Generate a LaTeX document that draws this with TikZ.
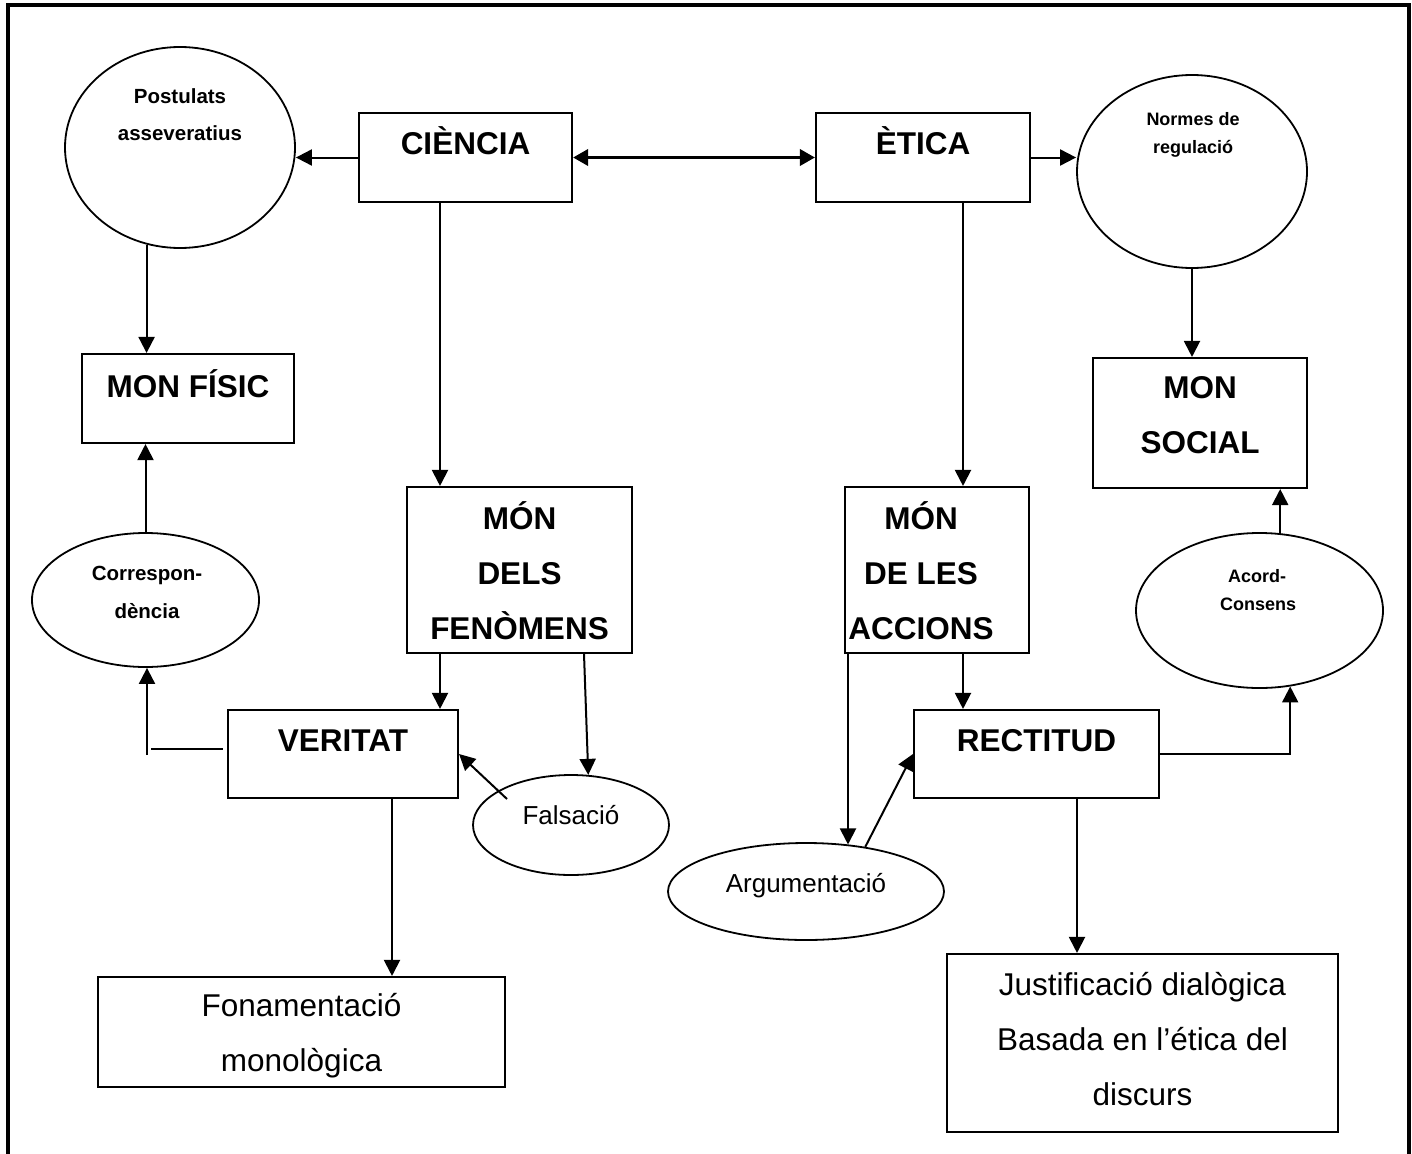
\documentclass[tikz,border=0pt]{standalone}
\usepackage{fontspec}
\setmainfont{Liberation Sans}
\usetikzlibrary{arrows.meta,shapes.geometric}
\tikzset{
  boxnode/.style={draw, line width=2.1pt, rectangle, inner sep=0pt},
  ellnode/.style={draw, line width=1.8pt, ellipse, inner sep=0pt},
  txt/.style={inner sep=0pt, anchor=base},
  bigbold/.style={txt, font=\fontsize{31.5}{36}\selectfont\bfseries},
  bigreg/.style={txt, font=\fontsize{31.5}{36}\selectfont},
  midreg/.style={txt, font=\fontsize{26}{30}\selectfont},
  smallbold/.style={txt, font=\fontsize{20.5}{24}\selectfont\bfseries},
  tinybold/.style={txt, font=\fontsize{18}{22}\selectfont\bfseries},
  conn/.style={line width=2pt},
  arr/.style={conn, -{Triangle[length=16pt,width=16pt]}},
  dblarr/.style={line width=3.4pt, {Triangle[length=15pt,width=16pt]}-{Triangle[length=15pt,width=16pt]}},
}
\begin{document}
\begin{tikzpicture}[x=1pt,y=-1pt]
\useasboundingbox (0,0) rectangle (1412,1153);
% frame (open at bottom)
\draw[line width=3.6pt] (8,1155) -- (8,5) -- (1409,5) -- (1409,1155);

% boxes
\node[boxnode, minimum width=213, minimum height=89] (ciencia) at (465.5,157.5) {};
\node[boxnode, minimum width=214, minimum height=89] (etica) at (923,157.5) {};
\node[boxnode, minimum width=212, minimum height=89] (monfisic) at (188,398.5) {};
\node[boxnode, minimum width=214, minimum height=130] (monsocial) at (1200,423) {};
\node[boxnode, minimum width=225, minimum height=166] (fenomens) at (519.5,570) {};
\node[boxnode, minimum width=184, minimum height=166] (accions) at (937,570) {};
\node[boxnode, minimum width=230, minimum height=88] (veritat) at (343,754) {};
\node[boxnode, minimum width=245, minimum height=88] (rectitud) at (1036.5,754) {};
\node[boxnode, minimum width=407, minimum height=110] (fonament) at (301.5,1032) {};
\node[boxnode, minimum width=391, minimum height=178] (justif) at (1142.5,1043) {};

% ellipses
\node[ellnode, minimum width=230, minimum height=201] (postulats) at (180,147.5) {};
\node[ellnode, minimum width=230, minimum height=193] (normes) at (1192,171.5) {};
\node[ellnode, minimum width=227, minimum height=134] (corresp) at (145.5,600) {};
\node[ellnode, minimum width=247, minimum height=155] (acord) at (1259.5,610.5) {};
\node[ellnode, minimum width=196, minimum height=100] (falsacio) at (571,825) {};
\node[ellnode, minimum width=276, minimum height=97] (argument) at (806,891.5) {};

% texts
\node[smallbold] (postulats-1) at (180,103) {Postulats};
\node[smallbold] (postulats-2) at (180,140) {asseveratius};
\node[bigbold] (ciencia-t) at (465.5,154) {CIÈNCIA};
\node[bigbold] (etica-t) at (923,154) {ÈTICA};
\node[tinybold] (normes-1) at (1193,125) {Normes de};
\node[tinybold] (normes-2) at (1193,153) {regulació};
\node[bigbold] (monfisic-t) at (188,397) {MON FÍSIC};
\node[bigbold] (monsocial-1) at (1200,398) {MON};
\node[bigbold] (monsocial-2) at (1200,453) {SOCIAL};
\node[bigbold] (fenomens-1) at (519.5,529) {MÓN};
\node[bigbold] (fenomens-2) at (519.5,584) {DELS};
\node[bigbold] (fenomens-3) at (519.5,639) {FENÒMENS};
\node[bigbold] (accions-1) at (921,529) {MÓN};
\node[bigbold] (accions-2) at (921,584) {DE LES};
\node[bigbold] (accions-3) at (921,639) {ACCIONS};
\node[smallbold] (corresp-1) at (147,580) {Correspon-};
\node[smallbold] (corresp-2) at (147,618) {dència};
\node[tinybold] (acord-1) at (1257,582) {Acord-};
\node[tinybold] (acord-2) at (1258,610) {Consens};
\node[bigbold] (veritat-t) at (343,751) {VERITAT};
\node[bigbold] (rectitud-t) at (1036.5,751) {RECTITUD};
\node[midreg] (falsacio-t) at (571,824) {Falsació};
\node[midreg] (argument-t) at (806,892) {Argumentació};
\node[bigreg] (fonament-1) at (301.5,1016) {Fonamentació};
\node[bigreg] (fonament-2) at (301.5,1071) {monològica};
\node[bigreg] (justif-1) at (1142.5,995) {Justificació dialògica};
\node[bigreg] (justif-2) at (1142.5,1050) {Basada en l’ética del};
\node[bigreg] (justif-3) at (1142.5,1105) {discurs};

% connectors
\draw[arr] (ciencia.west) -- (ciencia.west -| postulats.east);
\draw[dblarr] (ciencia.east) -- (etica.west);
\draw[arr] (etica.east) -- (etica.east -| normes.west);
\draw[arr] (postulats.251) -- (postulats.251 |- monfisic.north);
\draw[arr] (corresp.north) -- (corresp.north |- monfisic.south);
\draw[arr] ([xshift=-25.5]ciencia.south) -- ([xshift=-25.5]ciencia.south |- fenomens.north);
\draw[arr] ([xshift=40]etica.south) -- ([xshift=40]etica.south |- accions.north);
\draw[arr] (normes.south) -- (normes.south |- monsocial.north);
\draw[arr] (acord.75) -- (acord.75 |- monsocial.south);
\draw[conn] ([shift={(-4,-5)}]veritat.west) -- ++(-72,0);
\coordinate (vstart) at (147,755);
\draw[arr] (vstart) -- (vstart |- corresp.south);
\draw[arr] ([xshift=-79.5]fenomens.south) -- ([xshift=-79.5]fenomens.south |- veritat.north);
\draw[arr] ([xshift=64.5]fenomens.south) -- (falsacio.71);
\coordinate (fs) at (507,799);
\draw[arr] (fs) -- (veritat.east);
\draw[arr] ([xshift=49]veritat.south) -- ([xshift=49]veritat.south |- fonament.north);
\draw[arr] ([xshift=-89]accions.south) -- ([xshift=-89]accions.south |- argument.48);
\draw[arr] (argument.37) -- (rectitud.west);
\draw[arr] ([xshift=26]accions.south) -- ([xshift=26]accions.south |- rectitud.north);
\draw[arr] (rectitud.east) -| (acord.292);
\draw[arr] ([xshift=40.5]rectitud.south) -- ([xshift=40.5]rectitud.south |- justif.north);
\end{tikzpicture}
\end{document}
